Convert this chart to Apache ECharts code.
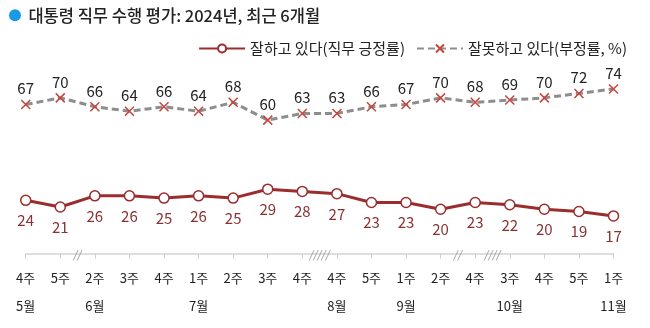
<!DOCTYPE html>
<html>
<head>
<meta charset="utf-8">
<script src="https://cdn.jsdelivr.net/npm/echarts@6/dist/echarts.min.js"></script>
<style>
html,body{margin:0;padding:0;background:#fff;}
#c{width:650px;height:328px;}
</style>
</head>
<body>
<div id="c"></div>
<script>
const weeks = ['4주','5주','2주','3주','4주','1주','2주','3주','4주','4주','5주','1주','2주','4주','3주','4주','5주','1주'];
const months = ['5월','','6월','','','7월','','','','8월','','9월','','','10월','','','11월'];
const approve = [24,21,26,26,25,26,25,29,28,27,23,23,20,23,22,20,19,17];
const disapprove = [67,70,66,64,66,64,68,60,63,63,66,67,70,68,69,70,72,74];
const breakPositions = [1.5, 8.5, 12.5, 13.5];
const breakMarks = ['//', '/////', '//', '////'];
const seriesNames = ['잘하고 있다(직무 긍정률)', '잘못하고 있다(부정률, %)'];
const titleText = '대통령 직무 수행 평가: 2024년, 최근 6개월';

const font = '"Noto Sans CJK KR", "Noto Sans", sans-serif';
const chart = echarts.init(document.getElementById('c'), null, {renderer: 'canvas'});
const cats = weeks.map((w, i) => w + '\n' + months[i]);

chart.setOption({
  animation: false,
  textStyle: {fontFamily: font},
  title: {
    text: '{dot|}  ' + titleText,
    left: 9, top: 7, padding: 0,
    textStyle: {
      fontFamily: font, fontSize: 16.5, fontWeight: 500, color: '#222',
      rich: {dot: {width: 12, height: 12, borderRadius: 6, backgroundColor: '#1b9ae4'}}
    }
  },
  legend: {
    right: 18, top: 36,
    itemWidth: 46, itemHeight: 10, itemGap: 11,
    textStyle: {fontFamily: font, fontSize: 15, color: '#222'},
    data: seriesNames
  },
  grid: {left: 25.7, right: 36.5, top: 60, bottom: 72},
  xAxis: [{
    type: 'category', data: cats, boundaryGap: false,
    axisLine: {lineStyle: {color: '#d4d4d4', width: 1.5}},
    axisTick: {show: true, length: 5, lineStyle: {color: '#cfcfcf'}},
    axisLabel: {interval: 0, fontFamily: font, fontSize: 13, color: '#222', lineHeight: 28, margin: 8},
    splitLine: {show: false}
  }, {
    type: 'value', min: 0, max: weeks.length - 1, show: false
  }],
  yAxis: {type: 'value', min: -1, max: 87, show: false, splitLine: {show: false}},
  series: [{
    name: seriesNames[0], type: 'line', data: approve,
    symbol: 'circle', symbolSize: 10, showAllSymbol: true,
    lineStyle: {color: '#9b2d2f', width: 3},
    itemStyle: {color: '#ffffff', borderColor: '#9b2d2f', borderWidth: 1.5},
    label: {show: true, position: 'bottom', distance: 7, fontFamily: font, fontSize: 15, color: '#8a3232'}
  }, {
    name: seriesNames[1], type: 'line', data: disapprove,
    symbol: 'path://M0,0 L10,10 M10,0 L0,10', symbolSize: 9, showAllSymbol: true,
    lineStyle: {color: '#8d8d8d', width: 3, type: [7, 4]},
    itemStyle: {color: 'rgba(0,0,0,0)', borderColor: '#c4473f', borderWidth: 1.5},
    label: {show: true, position: 'top', distance: 3, fontFamily: font, fontSize: 15, color: '#222'}
  }, {
    type: 'scatter', xAxisIndex: 1, yAxisIndex: 0, clip: false, silent: true, z: 5,
    symbol: 'rect', symbolSize: 2,
    itemStyle: {color: 'rgba(255,255,255,0)'},
    data: breakPositions.map((p, i) => ({value: [p, -1], label: {show: true, formatter: breakMarks[i]}})),
    label: {show: true, position: 'inside', fontFamily: '"DejaVu Sans", sans-serif', fontSize: 12, fontStyle: 'italic', color: '#9a9a9a'}
  }]
});
</script>
</body>
</html>
